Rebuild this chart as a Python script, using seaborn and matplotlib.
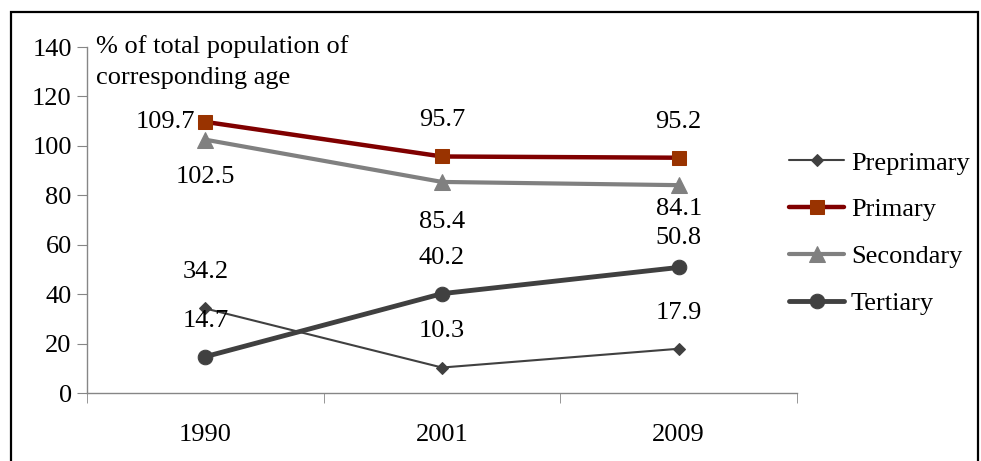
import numpy as np
import pandas as pd
import seaborn as sns
import matplotlib.pyplot as plt
from matplotlib.patches import Rectangle

years = ['1990', '2001', '2009']
preprimary = [34.2, 10.3, 17.9]
primary = [109.7, 95.7, 95.2]
secondary = [102.5, 85.4, 84.1]
tertiary = [14.7, 40.2, 50.8]

sns.set_style('white')
plt.rcParams['font.family'] = ['Liberation Serif', 'DejaVu Serif']
plt.rcParams['text.color'] = 'black'
plt.rcParams['xtick.labelcolor'] = 'black'
plt.rcParams['ytick.labelcolor'] = 'black'
FS = 19

fig = plt.figure(figsize=(9.81, 4.61), dpi=100)
ax = fig.add_axes([87 / 981, 1 - 393 / 461, 710 / 981, 346 / 461])

series = [
    ('Preprimary', preprimary, dict(color='#404040', lw=1.5, marker='D', ms=6.5, mfc='#404040', mec='#404040'), (0, 26)),
    ('Primary', primary, dict(color='#800000', lw=3.2, marker='s', ms=10, mfc='#993300', mec='#993300'), (0, 26)),
    ('Secondary', secondary, dict(color='#808080', lw=3, marker='^', ms=11, mfc='#808080', mec='#808080'), (0, -27)),
    ('Tertiary', tertiary, dict(color='#404040', lw=3.5, marker='o', ms=10.5, mfc='#404040', mec='#404040'), (0, 26)),
]
# label placement tweaks (offset points)
tweaks = {('Primary', 0): (-29, 0), ('Secondary', 1): (0, -29),
          ('Secondary', 2): (0, -17), ('Tertiary', 2): (0, 21)}

pos = np.arange(len(years))
for name, vals, style, off in series:
    df = pd.DataFrame({'x': pos, 'y': vals})
    sns.lineplot(data=df, x='x', y='y', ax=ax, label=name, **style)
    for i, v in enumerate(vals):
        o = tweaks.get((name, i), off)
        ax.annotate(f'{v}', (pos[i], v), xytext=o, textcoords='offset points',
                    ha='center', va='center', fontsize=FS, color='black')

ax.set_xlim(-0.5, 2.5)
ax.set_ylim(0, 140)
ax.set_yticks(range(0, 141, 20))
ax.set_xticks(pos)
ax.set_xticklabels(years)
ax.set_xticks([-0.5, 0.5, 1.5, 2.5], minor=True)
ax.tick_params(axis='x', which='major', length=0, pad=22, labelsize=FS)
ax.tick_params(axis='x', which='minor', length=7, color='#868686', direction='out', bottom=True)
ax.tick_params(axis='y', length=7, color='#868686', direction='out', left=True, labelsize=FS, pad=4)
ax.set_xlabel('')
ax.set_ylabel('')
for s in ['top', 'right']:
    ax.spines[s].set_visible(False)
for s in ['left', 'bottom']:
    ax.spines[s].set_color('#868686')
    ax.spines[s].set_linewidth(1)

ax.legend(loc='center left', bbox_to_anchor=(789 / 981, 1 - 233 / 461),
          bbox_transform=fig.transFigure, frameon=False, fontsize=FS,
          handlelength=2.1, handletextpad=0.25, labelspacing=0.88,
          borderpad=0, borderaxespad=0)

fig.text(96 / 981, 1 - 35 / 461, '% of total population of\ncorresponding age',
         ha='left', va='top', fontsize=FS, linespacing=1.55)

fig.patches.append(Rectangle((11 / 981, -0.1), 967 / 981, 1.1 - 12 / 461,
                             transform=fig.transFigure, fill=False, lw=1.6, ec='black'))

fig.savefig('out.png', dpi=100)
